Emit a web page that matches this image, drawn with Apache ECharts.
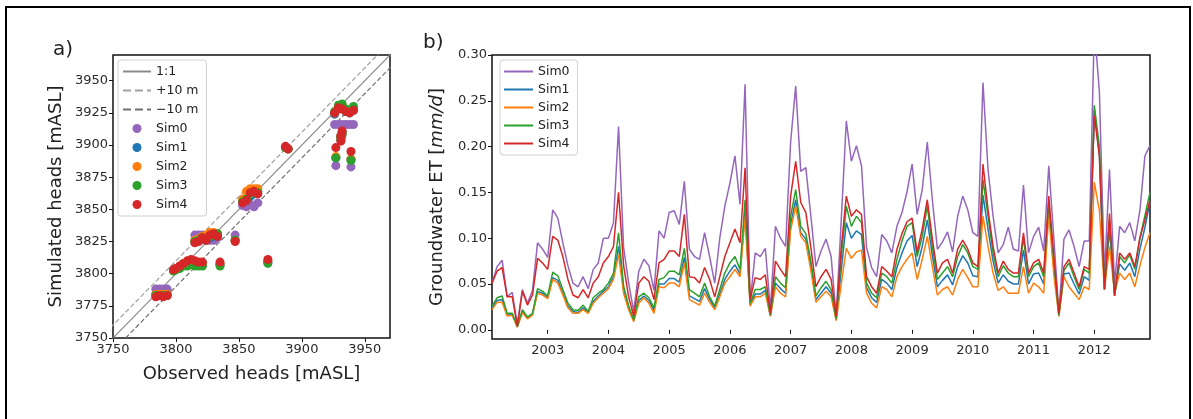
<!DOCTYPE html>
<html>
<head>
<meta charset="utf-8">
<script src="https://cdn.jsdelivr.net/npm/echarts@6/dist/echarts.min.js"></script>
<style>
  html, body { margin: 0; background: #fff; }
  #main { width: 1193px; height: 419px; }
</style>
</head>
<body>
<div id="main"></div>
<script>
var simNames = ['Sim0', 'Sim1', 'Sim2', 'Sim3', 'Sim4'];
var simColors = ['#9467bd', '#1f77b4', '#ff7f0e', '#2ca02c', '#d62728'];

// panel a: observed vs simulated heads [mASL]
var observedHeads = [3784, 3787, 3790, 3793, 3798, 3800,
  3803, 3806, 3809, 3812, 3815, 3818, 3821,
  3815, 3818, 3821, 3824, 3827, 3830, 3833,
  3847, 3835, 3873,
  3853, 3856, 3859, 3862, 3865,
  3887, 3889,
  3926, 3929, 3932, 3935, 3938, 3941,
  3931, 3931, 3932, 3927, 3939];
var sim0Heads = [3788, 3788, 3788, 3788, 3803, 3804,
  3805, 3807, 3808, 3810, 3809, 3808, 3808,
  3830, 3830, 3830, 3828, 3826, 3826, 3828,
  3830, 3807, 3809,
  3853, 3852, 3854, 3852, 3855,
  3898, 3897,
  3916, 3916, 3916, 3916, 3916, 3916,
  3905, 3907, 3910, 3884, 3883];
var sim1Heads = [3784, 3784, 3784, 3784, 3803, 3804,
  3805, 3807, 3808, 3809, 3808, 3807, 3807,
  3825, 3826, 3827, 3826, 3828, 3829, 3830,
  3826, 3807, 3809,
  3856, 3857, 3860, 3862, 3864,
  3898, 3897,
  3924, 3928, 3930, 3926, 3925, 3927,
  3904, 3906, 3908, 3890, 3889];
var sim2Heads = [3784, 3784, 3784, 3784, 3803, 3804,
  3806, 3808, 3809, 3810, 3809, 3808, 3808,
  3826, 3827, 3829, 3830, 3832, 3832, 3831,
  3826, 3808, 3810,
  3858, 3864, 3866, 3866, 3866,
  3898, 3897,
  3925, 3929, 3930, 3927, 3926, 3928,
  3905, 3907, 3909, 3891, 3889];
var sim3Heads = [3783, 3783, 3783, 3783, 3802, 3803,
  3804, 3806, 3806, 3807, 3806, 3806, 3806,
  3825, 3826, 3828, 3827, 3829, 3830, 3831,
  3826, 3806, 3808,
  3856, 3858, 3862, 3863, 3863,
  3898, 3897,
  3926, 3931, 3932, 3928, 3927, 3930,
  3905, 3907, 3909, 3890, 3888];
var sim4Heads = [3782, 3783, 3782, 3783, 3803, 3804,
  3806, 3808, 3810, 3811, 3810, 3809, 3809,
  3824, 3825, 3828, 3826, 3830, 3831, 3829,
  3825, 3809, 3811,
  3855, 3857, 3863, 3864, 3862,
  3899, 3897,
  3925, 3929, 3928, 3926, 3925, 3927,
  3903, 3907, 3911, 3898, 3895];
var refLimits = [3740, 3980];
var refLines = [
  { name: '1:1', offset: 0, type: 'solid', color: '#8a8a8a' },
  { name: '+10 m', offset: 10, type: 'dashed', color: '#a0a0a0' },
  { name: '\u221210 m', offset: -10, type: 'dashed', color: '#707070' }
];

// panel b: monthly groundwater ET [mm/d], Feb 2002 - Dec 2012
var firstYear = 2002, firstMonth = 2;
var yearTicks = [2003, 2004, 2005, 2006, 2007, 2008, 2009, 2010, 2011, 2012];
var etTicks = [0, 0.05, 0.10, 0.15, 0.20, 0.25, 0.30];
var et0 = [
  0.051, 0.069, 0.076, 0.036, 0.041, 0.006, 0.044, 0.029, 0.043, 0.095, 0.088,
  0.079, 0.131, 0.122, 0.095, 0.07, 0.051, 0.047, 0.058, 0.045, 0.066, 0.073, 0.1,
  0.1, 0.117, 0.222, 0.09, 0.051, 0.02, 0.064, 0.077, 0.07, 0.043, 0.108, 0.1,
  0.128, 0.13, 0.115, 0.162, 0.088, 0.08, 0.077, 0.106, 0.08, 0.051, 0.1, 0.135,
  0.16, 0.19, 0.137, 0.268, 0.03, 0.084, 0.08, 0.089, 0.022, 0.113, 0.1, 0.091,
  0.205, 0.266, 0.173, 0.177, 0.124, 0.069, 0.086, 0.099, 0.08, 0.015, 0.12, 0.228,
  0.184, 0.201, 0.179, 0.09, 0.068, 0.058, 0.104, 0.097, 0.084, 0.113, 0.128, 0.151,
  0.181, 0.126, 0.153, 0.205, 0.142, 0.088, 0.096, 0.107, 0.085, 0.124, 0.146, 0.131,
  0.106, 0.102, 0.27, 0.175, 0.124, 0.084, 0.093, 0.112, 0.088, 0.086, 0.158, 0.084,
  0.102, 0.112, 0.086, 0.179, 0.1, 0.018, 0.099, 0.109, 0.091, 0.069, 0.097, 0.097,
  0.33, 0.26, 0.06, 0.175, 0.05, 0.113, 0.106, 0.117, 0.097, 0.13, 0.19, 0.201];
var et1 = [
  0.024, 0.032, 0.033, 0.016, 0.017, 0.003, 0.02, 0.013, 0.017, 0.042, 0.04,
  0.035, 0.057, 0.054, 0.04, 0.026, 0.02, 0.019, 0.024, 0.019, 0.031, 0.037, 0.042,
  0.047, 0.058, 0.091, 0.043, 0.024, 0.01, 0.032, 0.037, 0.032, 0.021, 0.05, 0.05,
  0.056, 0.056, 0.052, 0.079, 0.037, 0.034, 0.031, 0.045, 0.033, 0.024, 0.039, 0.055,
  0.064, 0.071, 0.061, 0.13, 0.027, 0.039, 0.039, 0.043, 0.015, 0.051, 0.045, 0.04,
  0.115, 0.142, 0.106, 0.099, 0.069, 0.033, 0.04, 0.047, 0.04, 0.011, 0.065, 0.117,
  0.1, 0.108, 0.104, 0.046, 0.035, 0.03, 0.055, 0.051, 0.044, 0.068, 0.084, 0.097,
  0.103, 0.069, 0.091, 0.12, 0.081, 0.047, 0.054, 0.06, 0.049, 0.069, 0.081, 0.073,
  0.059, 0.058, 0.147, 0.11, 0.075, 0.051, 0.06, 0.053, 0.05, 0.05, 0.087, 0.05,
  0.061, 0.062, 0.05, 0.135, 0.068, 0.015, 0.061, 0.062, 0.05, 0.039, 0.058, 0.054,
  0.24, 0.19, 0.044, 0.11, 0.038, 0.072, 0.065, 0.073, 0.058, 0.088, 0.112, 0.14];
var et2 = [
  0.022, 0.03, 0.03, 0.015, 0.016, 0.003, 0.019, 0.012, 0.016, 0.04, 0.038,
  0.034, 0.055, 0.051, 0.038, 0.024, 0.018, 0.018, 0.022, 0.018, 0.029, 0.035, 0.04,
  0.045, 0.055, 0.082, 0.04, 0.022, 0.009, 0.029, 0.035, 0.029, 0.018, 0.047, 0.046,
  0.051, 0.051, 0.047, 0.073, 0.033, 0.03, 0.027, 0.04, 0.03, 0.022, 0.036, 0.051,
  0.058, 0.066, 0.058, 0.124, 0.026, 0.036, 0.036, 0.04, 0.015, 0.047, 0.04, 0.036,
  0.109, 0.135, 0.102, 0.095, 0.065, 0.03, 0.036, 0.042, 0.036, 0.01, 0.05, 0.089,
  0.078, 0.085, 0.087, 0.04, 0.029, 0.024, 0.047, 0.044, 0.036, 0.058, 0.069, 0.077,
  0.084, 0.055, 0.077, 0.102, 0.069, 0.038, 0.044, 0.047, 0.038, 0.055, 0.066, 0.057,
  0.047, 0.047, 0.124, 0.091, 0.062, 0.043, 0.047, 0.04, 0.04, 0.04, 0.069, 0.04,
  0.051, 0.047, 0.04, 0.127, 0.06, 0.015, 0.058, 0.047, 0.04, 0.033, 0.047, 0.044,
  0.161, 0.13, 0.044, 0.091, 0.04, 0.062, 0.055, 0.062, 0.047, 0.07, 0.09, 0.106];
var et3 = [
  0.026, 0.035, 0.037, 0.018, 0.018, 0.004, 0.022, 0.014, 0.018, 0.045, 0.042,
  0.037, 0.063, 0.059, 0.044, 0.029, 0.022, 0.021, 0.027, 0.02, 0.035, 0.04, 0.044,
  0.051, 0.062, 0.106, 0.048, 0.026, 0.011, 0.036, 0.04, 0.035, 0.024, 0.055, 0.057,
  0.064, 0.064, 0.06, 0.089, 0.044, 0.04, 0.036, 0.051, 0.036, 0.026, 0.044, 0.062,
  0.073, 0.08, 0.066, 0.142, 0.029, 0.044, 0.044, 0.047, 0.016, 0.058, 0.051, 0.046,
  0.124, 0.153, 0.113, 0.105, 0.075, 0.037, 0.046, 0.053, 0.044, 0.012, 0.08, 0.135,
  0.113, 0.124, 0.117, 0.051, 0.04, 0.035, 0.062, 0.058, 0.051, 0.077, 0.097, 0.113,
  0.117, 0.08, 0.102, 0.135, 0.091, 0.055, 0.062, 0.069, 0.058, 0.08, 0.093, 0.084,
  0.069, 0.066, 0.164, 0.124, 0.084, 0.058, 0.07, 0.062, 0.058, 0.058, 0.1, 0.058,
  0.069, 0.073, 0.058, 0.14, 0.075, 0.016, 0.065, 0.073, 0.058, 0.044, 0.066, 0.062,
  0.245, 0.2, 0.044, 0.12, 0.037, 0.08, 0.073, 0.082, 0.066, 0.1, 0.125, 0.15];
var et4 = [
  0.051, 0.064, 0.068, 0.036, 0.036, 0.004, 0.042, 0.027, 0.038, 0.078, 0.073,
  0.066, 0.102, 0.098, 0.08, 0.055, 0.038, 0.035, 0.044, 0.035, 0.051, 0.058, 0.073,
  0.08, 0.091, 0.15, 0.07, 0.036, 0.015, 0.051, 0.058, 0.053, 0.033, 0.073, 0.077,
  0.086, 0.086, 0.08, 0.126, 0.058, 0.057, 0.051, 0.068, 0.055, 0.036, 0.058, 0.08,
  0.095, 0.11, 0.095, 0.177, 0.033, 0.057, 0.055, 0.06, 0.018, 0.075, 0.066, 0.058,
  0.146, 0.184, 0.139, 0.128, 0.09, 0.047, 0.058, 0.066, 0.055, 0.015, 0.09, 0.146,
  0.124, 0.131, 0.126, 0.058, 0.047, 0.04, 0.069, 0.064, 0.058, 0.088, 0.105, 0.118,
  0.122, 0.085, 0.11, 0.142, 0.099, 0.062, 0.073, 0.077, 0.062, 0.088, 0.098, 0.088,
  0.073, 0.069, 0.181, 0.131, 0.091, 0.062, 0.075, 0.066, 0.062, 0.062, 0.106, 0.062,
  0.073, 0.077, 0.062, 0.146, 0.08, 0.018, 0.069, 0.077, 0.062, 0.047, 0.069, 0.066,
  0.234, 0.19, 0.044, 0.127, 0.037, 0.084, 0.077, 0.084, 0.069, 0.1, 0.12, 0.142];

var simHeads = [sim0Heads, sim1Heads, sim2Heads, sim3Heads, sim4Heads];
var simEt = [et0, et1, et2, et3, et4];

// decimal year of every monthly value
var monthX = et0.map(function (_, i) {
  return firstYear + (firstMonth - 1 + i) / 12;
});

var font = 'DejaVu Sans';
var tickLabel = { color: '#2a2a2a', fontSize: 13, fontFamily: font, margin: 5 };
var tickStyle = { show: true, length: 4, lineStyle: { color: '#111', width: 1 } };
var axisName = { color: '#222', fontSize: 18, fontFamily: font };
var plain = function (v) { return String(v); };
// legend entries for lines: hide the marker ECharts puts in the middle
var lineOnly = { opacity: 0 };

var series = [];
refLines.forEach(function (r) {
  series.push({
    name: r.name, type: 'line', xAxisIndex: 0, yAxisIndex: 0,
    symbol: 'none', silent: true, z: 1,
    lineStyle: { color: r.color, width: 1.2, type: r.type },
    itemStyle: { color: r.color },
    data: refLimits.map(function (v) { return [v, v + r.offset]; })
  });
});
simNames.forEach(function (n, k) {
  series.push({
    name: 'a:' + n, type: 'scatter', xAxisIndex: 0, yAxisIndex: 0,
    symbolSize: 9, z: 2 + k,
    itemStyle: { color: simColors[k], opacity: 1 },
    data: observedHeads.map(function (o, i) { return [o, simHeads[k][i]]; })
  });
});
simNames.forEach(function (n, k) {
  series.push({
    name: 'b:' + n, type: 'line', xAxisIndex: 1, yAxisIndex: 1,
    symbol: 'none', z: 2 + k,
    lineStyle: { color: simColors[k], width: 1.5 },
    itemStyle: { color: simColors[k] },
    data: simEt[k].map(function (v, i) { return [monthX[i], v]; })
  });
});

var legendBase = {
  orient: 'vertical', selectedMode: false,
  backgroundColor: 'rgba(255,255,255,0.85)',
  borderColor: '#d0d0d0', borderWidth: 1, borderRadius: 3,
  textStyle: { color: '#222', fontSize: 12.5, fontFamily: font },
  formatter: function (name) { return name.replace(/^[ab]:/, ''); }
};

var chart = echarts.init(document.getElementById('main'), null, { renderer: 'canvas' });
chart.setOption({
  backgroundColor: '#fff',
  animation: false,
  grid: [
    { left: 113, top: 55, width: 277, height: 283, show: true, borderColor: '#111', borderWidth: 1.5, backgroundColor: '#fff' },
    { left: 492, top: 55, width: 658, height: 284, show: true, borderColor: '#111', borderWidth: 1.5, backgroundColor: '#fff' }
  ],
  xAxis: [
    {
      gridIndex: 0, type: 'value', min: 3750, max: 3970, interval: 50,
      splitLine: { show: false }, axisLine: { show: false }, axisTick: tickStyle,
      axisLabel: Object.assign({ formatter: plain, showMaxLabel: false }, tickLabel),
      name: 'Observed heads [mASL]', nameLocation: 'middle', nameGap: 27, nameTextStyle: axisName
    },
    {
      gridIndex: 1, type: 'value', min: monthX[0], max: monthX[monthX.length - 1],
      splitLine: { show: false }, axisLine: { show: false },
      axisTick: Object.assign({ customValues: yearTicks }, tickStyle),
      axisLabel: Object.assign({ customValues: yearTicks, formatter: plain }, tickLabel)
    }
  ],
  yAxis: [
    {
      gridIndex: 0, type: 'value', min: 3750, max: 3970, interval: 25,
      splitLine: { show: false }, axisLine: { show: false }, axisTick: tickStyle,
      axisLabel: Object.assign({ formatter: plain, showMaxLabel: false }, tickLabel),
      name: 'Simulated heads [mASL]', nameLocation: 'middle', nameGap: 48, nameTextStyle: axisName
    },
    {
      gridIndex: 1, type: 'value', min: -0.01, max: 0.30,
      splitLine: { show: false }, axisLine: { show: false },
      axisTick: Object.assign({ customValues: etTicks }, tickStyle),
      axisLabel: Object.assign({ customValues: etTicks, formatter: function (v) { return v.toFixed(2); } }, tickLabel),
      name: '{n|Groundwater ET [}{i|mm/d}{n|]}', nameLocation: 'middle', nameGap: 46,
      nameTextStyle: {
        rich: {
          n: { color: '#222', fontSize: 18, fontFamily: font },
          i: { color: '#222', fontSize: 18, fontFamily: font, fontStyle: 'italic' }
        }
      }
    }
  ],
  legend: [
    Object.assign({}, legendBase, {
      left: 118, top: 60, padding: [5, 8, 5, 4], itemWidth: 28, itemHeight: 9, itemGap: 6,
      data: refLines.map(function (r) { return { name: r.name, itemStyle: lineOnly }; }).concat(
        simNames.map(function (n) { return { name: 'a:' + n, icon: 'circle' }; }))
    }),
    Object.assign({}, legendBase, {
      left: 500, top: 60, padding: [5, 8, 5, 3], itemWidth: 29, itemHeight: 10, itemGap: 5,
      data: simNames.map(function (n) { return { name: 'b:' + n, itemStyle: lineOnly }; })
    })
  ],
  graphic: [
    { type: 'rect', shape: { x: 6, y: 7, width: 1184, height: 440 }, style: { fill: null, stroke: '#000', lineWidth: 2 }, silent: true },
    { type: 'text', left: 53, top: 40, style: { text: 'a)', fontSize: 20, fontFamily: font, fill: '#222' } },
    { type: 'text', left: 423, top: 33, style: { text: 'b)', fontSize: 20, fontFamily: font, fill: '#222' } }
  ],
  series: series
});
</script>
</body>
</html>
